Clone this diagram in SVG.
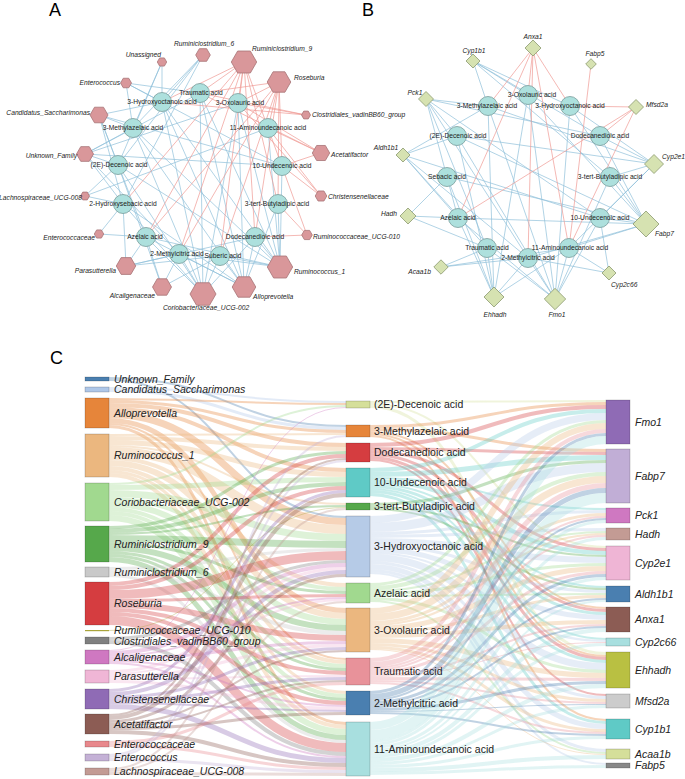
<svg xmlns="http://www.w3.org/2000/svg" width="685" height="779" viewBox="0 0 685 779">
<style>
.ne{stroke:#8fc0da;stroke-width:0.7;fill:none}
.pe{stroke:#ef9a94;stroke-width:0.7;fill:none}
.met{fill:#ade0dd;stroke:#7a9d9c;stroke-width:0.8}
.bac{fill:#d9979a;stroke:#a77476;stroke-width:0.8}
.gen{fill:#d6e2b1;stroke:#8c9970;stroke-width:0.8}
.t{font-family:"Liberation Sans",Arial,sans-serif;font-size:6.7px;fill:#222}
.i{font-style:italic}
.m{text-anchor:middle}
.e{text-anchor:end}
.lk path{fill:none;stroke-opacity:0.35}
.nd{stroke:#000;stroke-opacity:0.25;stroke-width:0.7}
.s{font-family:"Liberation Sans",Arial,sans-serif;font-size:10.5px;fill:#222}
.h{font-family:"Liberation Sans",Arial,sans-serif;font-size:18px;fill:#000}
</style>
<rect width="685" height="779" fill="#fff"/>
<text class="h" x="49" y="16">A</text>
<text class="h" x="362" y="16">B</text>
<text class="h" x="50" y="364">C</text>

<!-- Panel A connectors -->
<g id="edgesA">
<path class="ne" d="M162 62L162 102M162 62L118 165M162 62L133 128"/>
<path class="ne" d="M203 55L162 102M203 55L133 128M203 55L118 165M203 55L123 204"/>
<path class="ne" d="M126 83L162 102M126 83L133 128M126 83L200 93M126 83L282 166"/>
<path class="ne" d="M99 115L133 128M99 115L162 102M99 115L118 165M99 115L123 204M99 115L146 237M99 115L282 166"/>
<path class="ne" d="M85 154L118 165M85 154L133 128M85 154L123 204M85 154L200 93M85 154L179 254M85 154L238 103M85 154L282 166"/>
<path class="ne" d="M85 196L123 204M85 196L118 165M85 196L268 128"/>
<path class="ne" d="M99 234L146 237M99 234L123 204"/>
<path class="ne" d="M126 266L146 237M126 266L179 254M126 266L123 204M126 266L220 256M126 266L255 237"/>
<path class="ne" d="M162 287L179 254M162 287L146 237M162 287L220 256M162 287L118 165"/>
<path class="ne" d="M203 294L179 254M203 294L220 256M203 294L146 237M203 294L255 237M203 294L123 204M203 294L118 165M203 294L133 128M203 294L162 102M203 294L200 93M203 294L238 103"/>
<path class="ne" d="M244 287L220 256M244 287L255 237M244 287L179 254M244 287L146 237M244 287L123 204M244 287L133 128M244 287L162 102M244 287L200 93M244 287L238 103M244 287L278 204"/>
<path class="ne" d="M280 267L255 237M280 267L278 204M280 267L282 166M280 267L220 256M280 267L179 254M280 267L146 237M280 267L162 102M280 267L133 128M280 267L118 165M280 267L200 93M280 267L238 103M280 267L268 128"/>
<path class="pe" d="M244 62L200 93M244 62L238 103M244 62L268 128M244 62L162 102M244 62L123 204M244 62L146 237M244 62L179 254M244 62L220 256M244 62L255 237M244 62L278 204"/>
<path class="pe" d="M279 82L200 93M279 82L238 103M279 82L268 128M279 82L282 166M279 82L278 204M279 82L255 237M279 82L220 256M279 82L179 254M279 82L146 237"/>
<path class="pe" d="M306 115L200 93M306 115L238 103M306 115L162 102"/>
<path class="pe" d="M321 153L268 128M321 153L238 103M321 153L200 93M321 153L282 166"/>
<path class="pe" d="M321 196L268 128M321 196L282 166M321 196L238 103"/>
<path class="pe" d="M307 235L278 204M307 235L268 128M307 235L255 237"/>
</g>

<!-- Panel B connectors -->
<g id="edgesB">
<path class="ne" d="M473 61L488 106M473 61L528 95M473 61L570 106M473 61L600 136M473 61L610 177"/>
<path class="ne" d="M426 99L488 106M426 99L457 136M426 99L458 218M426 99L487 248M426 99L600 218M426 99L600 136M426 99L528 258"/>
<path class="ne" d="M403 155L457 136M403 155L488 106M403 155L458 218M403 155L487 248M403 155L600 218M403 155L528 258"/>
<path class="ne" d="M408 216L447 177M408 216L458 218M408 216L487 248"/>
<path class="ne" d="M441 267L487 248M441 267L528 258M441 267L569 248"/>
<path class="ne" d="M494 297L487 248M494 297L528 258M494 297L569 248M494 297L458 218M494 297L457 136M494 297L488 106M494 297L528 95M494 297L447 177"/>
<path class="ne" d="M555 299L569 248M555 299L528 258M555 299L600 218M555 299L610 177M555 299L487 248M555 299L570 106M555 299L528 95M555 299L457 136M555 299L458 218M555 299L488 106"/>
<path class="ne" d="M609 273L569 248M609 273L600 218M609 273L528 258"/>
<path class="ne" d="M646 224L600 218M646 224L610 177M646 224L569 248M646 224L600 136M646 224L528 258M646 224L458 218M646 224L447 177M646 224L457 136M646 224L570 106M646 224L528 95"/>
<path class="ne" d="M654 164L610 177M654 164L600 136M654 164L600 218M654 164L569 248M654 164L488 106M654 164L457 136M654 164L570 106"/>
<path class="pe" d="M533 48L528 95M533 48L570 106M533 48L458 218M533 48L528 258M533 48L569 248M533 48L488 106"/>
<path class="pe" d="M591 64L569 248"/>
<path class="pe" d="M636 107L570 106M636 107L600 136M636 107L458 218M636 107L569 248"/>
</g>

<!-- Panel A nodes: bacteria -->
<g id="a-unassigned"><path class="bac" d="M166.7 62l-2.35 4.07h-4.7l-2.35-4.07l2.35-4.07h4.7z"/><text class="t i e" x="161" y="57">Unassigned</text></g>
<g id="a-rum6"><path class="bac" d="M210.3 55l-3.65 6.32h-7.3l-3.65-6.32l3.65-6.32h7.3z"/><text class="t i m" x="204" y="46">Ruminiclostridium_6</text></g>
<g id="a-rum9"><path class="bac" d="M256.7 62l-6.35 11h-12.7l-6.35-11l6.35-11h12.7z"/><text class="t i" x="252" y="51">Ruminiclostridium_9</text></g>
<g id="a-roseburia"><path class="bac" d="M290.8 82l-5.9 10.22h-11.8l-5.9-10.22l5.9-10.22h11.8z"/><text class="t i" x="294" y="80">Roseburia</text></g>
<g id="a-clostridiales"><path class="bac" d="M310.5 115l-2.25 3.9h-4.5l-2.25-3.9l2.25-3.9h4.5z"/><text class="t i" x="312" y="117">Clostridiales_vadinBB60_group</text></g>
<g id="a-acetatifactor"><path class="bac" d="M329.7 153l-4.35 7.53h-8.7l-4.35-7.53l4.35-7.53h8.7z"/><text class="t i" x="331" y="157">Acetatifactor</text></g>
<g id="a-christensenellaceae"><path class="bac" d="M326.8 196l-2.9 5.02h-5.8l-2.9-5.02l2.9-5.02h5.8z"/><text class="t i" x="328" y="199">Christensenellaceae</text></g>
<g id="a-ucg010"><path class="bac" d="M312.3 235l-2.65 4.59h-5.3l-2.65-4.59l2.65-4.59h5.3z"/><text class="t i" x="313" y="239">Ruminococcaceae_UCG-010</text></g>
<g id="a-rum1"><path class="bac" d="M292.7 267l-6.35 11h-12.7l-6.35-11l6.35-11h12.7z"/><text class="t i" x="294" y="274">Ruminococcus_1</text></g>
<g id="a-alloprevotella"><path class="bac" d="M255.8 287l-5.9 10.22h-11.8l-5.9-10.22l5.9-10.22h11.8z"/><text class="t i" x="253" y="299">Alloprevotella</text></g>
<g id="a-corio"><path class="bac" d="M216 294l-6.5 11.26h-13l-6.5-11.26l6.5-11.26h13z"/><text class="t i m" x="206" y="310">Coriobacteriaceae_UCG-002</text></g>
<g id="a-alcaligenaceae"><path class="bac" d="M171.5 287l-4.75 8.23h-9.5l-4.75-8.23l4.75-8.23h9.5z"/><text class="t i e" x="155" y="298">Alcaligenaceae</text></g>
<g id="a-parasutterella"><path class="bac" d="M135.7 266l-4.85 8.4h-9.7l-4.85-8.4l4.85-8.4h9.7z"/><text class="t i e" x="116" y="273">Parasutterella</text></g>
<g id="a-enterococcaceae"><path class="bac" d="M103.7 234l-2.35 4.07h-4.7l-2.35-4.07l2.35-4.07h4.7z"/><text class="t i e" x="95" y="240">Enterococcaceae</text></g>
<g id="a-lachno"><path class="bac" d="M89.5 196l-2.25 3.9h-4.5l-2.25-3.9l2.25-3.9h4.5z"/><text class="t i e" x="82" y="200">Lachnospiraceae_UCG-008</text></g>
<g id="a-unknown"><path class="bac" d="M93.5 154l-4.25 7.36h-8.5l-4.25-7.36l4.25-7.36h8.5z"/><text class="t i e" x="77" y="158">Unknown_Family</text></g>
<g id="a-candidatus"><path class="bac" d="M108 115l-4.5 7.79h-9l-4.5-7.79l4.5-7.79h9z"/><text class="t i e" x="90" y="115">Candidatus_Saccharimonas</text></g>
<g id="a-enterococcus"><path class="bac" d="M131.5 83l-2.75 4.76h-5.5l-2.75-4.76l2.75-4.76h5.5z"/><text class="t i e" x="120" y="85">Enterococcus</text></g>

<!-- Panel A nodes: metabolites -->
<g id="a-tra"><circle class="met" cx="200" cy="93" r="9.5"/><text class="t m" x="201" y="95.4">Traumatic acid</text></g>
<g id="a-ola"><circle class="met" cx="238" cy="103" r="9.5"/><text class="t m" x="240" y="105.4">3-Oxolauric acid</text></g>
<g id="a-aua"><circle class="met" cx="268" cy="128" r="9.5"/><text class="t m" x="268" y="130.4">11-Aminoundecanoic acid</text></g>
<g id="a-hoa"><circle class="met" cx="162" cy="102" r="9.5"/><text class="t m" x="162" y="104.4">3-Hydroxyoctanoic acid</text></g>
<g id="a-m3a"><circle class="met" cx="133" cy="128" r="9.5"/><text class="t m" x="133" y="130.4">3-Methylazelaic acid</text></g>
<g id="a-d2e"><circle class="met" cx="118" cy="165" r="9.5"/><text class="t m" x="119" y="167.4">(2E)-Decenoic acid</text></g>
<g id="a-hsa"><circle class="met" cx="123" cy="204" r="9.5"/><text class="t m" x="123" y="206.4">2-Hydroxysebacic acid</text></g>
<g id="a-aza"><circle class="met" cx="146" cy="237" r="9.5"/><text class="t m" x="145" y="239.4">Azelaic acid</text></g>
<g id="a-mca"><circle class="met" cx="179" cy="254" r="9.5"/><text class="t m" x="177" y="256.4">2-Methylcitric acid</text></g>
<g id="a-sua"><circle class="met" cx="220" cy="256" r="9.5"/><text class="t m" x="223" y="258.4">Suberic acid</text></g>
<g id="a-dda"><circle class="met" cx="255" cy="237" r="9.5"/><text class="t m" x="255" y="239.4">Dodecanedioic acid</text></g>
<g id="a-tba"><circle class="met" cx="278" cy="204" r="9.5"/><text class="t m" x="277" y="206.4">3-tert-Butyladipic acid</text></g>
<g id="a-uda"><circle class="met" cx="282" cy="166" r="9.5"/><text class="t m" x="282" y="168.4">10-Undecenoic acid</text></g>

<!-- Panel B nodes: genes -->
<g id="b-cyp1b1"><path class="gen" d="M473 54l7 7l-7 7l-7-7z"/><text class="t i m" x="474" y="53">Cyp1b1</text></g>
<g id="b-anxa1"><path class="gen" d="M533 40l8 8l-8 8l-8-8z"/><text class="t i m" x="533" y="39">Anxa1</text></g>
<g id="b-fabp5"><path class="gen" d="M591 58.7l5.3 5.3l-5.3 5.3l-5.3-5.3z"/><text class="t i m" x="595" y="56">Fabp5</text></g>
<g id="b-pck1"><path class="gen" d="M426 91.5l7.5 7.5l-7.5 7.5l-7.5-7.5z"/><text class="t i m" x="415" y="95">Pck1</text></g>
<g id="b-mfsd2a"><path class="gen" d="M636 99.5l7.5 7.5l-7.5 7.5l-7.5-7.5z"/><text class="t i" x="646" y="107">Mfsd2a</text></g>
<g id="b-aldh1b1"><path class="gen" d="M403 148l7 7l-7 7l-7-7z"/><text class="t i m" x="386" y="150">Aldh1b1</text></g>
<g id="b-cyp2e1"><path class="gen" d="M654 154.5l9.5 9.5l-9.5 9.5l-9.5-9.5z"/><text class="t i" x="662" y="159">Cyp2e1</text></g>
<g id="b-hadh"><path class="gen" d="M408 208l8 8l-8 8l-8-8z"/><text class="t i e" x="397" y="216">Hadh</text></g>
<g id="b-fabp7"><path class="gen" d="M646 211l13 13l-13 13l-13-13z"/><text class="t i" x="655" y="236">Fabp7</text></g>
<g id="b-acaa1b"><path class="gen" d="M441 259.8l7.2 7.2l-7.2 7.2l-7.2-7.2z"/><text class="t i e" x="431" y="274">Acaa1b</text></g>
<g id="b-cyp2c66"><path class="gen" d="M609 266l7 7l-7 7l-7-7z"/><text class="t i" x="611" y="287">Cyp2c66</text></g>
<g id="b-ehhadh"><path class="gen" d="M494 287l10 10l-10 10l-10-10z"/><text class="t i m" x="495" y="317">Ehhadh</text></g>
<g id="b-fmo1"><path class="gen" d="M555 288.3l10.7 10.7l-10.7 10.7l-10.7-10.7z"/><text class="t i m" x="557" y="317">Fmo1</text></g>

<!-- Panel B nodes: metabolites -->
<g id="b-m3a"><circle class="met" cx="488" cy="106" r="9.5"/><text class="t m" x="487" y="108.4">3-Methylazelaic acid</text></g>
<g id="b-d2e"><circle class="met" cx="457" cy="136" r="9.5"/><text class="t m" x="458" y="138.4">(2E)-Decenoic acid</text></g>
<g id="b-ola"><circle class="met" cx="528" cy="95" r="9.5"/><text class="t m" x="532" y="97.4">3-Oxolauric acid</text></g>
<g id="b-hoa"><circle class="met" cx="570" cy="106" r="9.5"/><text class="t m" x="570" y="108.4">3-Hydroxyoctanoic acid</text></g>
<g id="b-dda"><circle class="met" cx="600" cy="136" r="9.5"/><text class="t m" x="600" y="138.4">Dodecanedioic acid</text></g>
<g id="b-seb"><circle class="met" cx="447" cy="177" r="9.5"/><text class="t m" x="447" y="179.4">Sebacic acid</text></g>
<g id="b-aza"><circle class="met" cx="458" cy="218" r="9.5"/><text class="t m" x="458" y="220.4">Azelaic acid</text></g>
<g id="b-tra"><circle class="met" cx="487" cy="248" r="9.5"/><text class="t m" x="487" y="250.4">Traumatic acid</text></g>
<g id="b-mca"><circle class="met" cx="528" cy="258" r="9.5"/><text class="t m" x="528" y="260.4">2-Methylcitric acid</text></g>
<g id="b-aua"><circle class="met" cx="569" cy="248" r="9.5"/><text class="t m" x="570" y="250.4">11-Aminoundecanoic acid</text></g>
<g id="b-uda"><circle class="met" cx="600" cy="218" r="9.5"/><text class="t m" x="600" y="220.4">10-Undecenoic acid</text></g>
<g id="b-tba"><circle class="met" cx="610" cy="177" r="9.5"/><text class="t m" x="610" y="179.4">3-tert-Butyladipic acid</text></g>

<!-- Panel C links -->
<g id="linksC" class="lk">
<g stroke="#4a7fb0"><path stroke-width="2" d="M109 378C228 378 228 426 346 426"/><path stroke-width="2" d="M109 380C228 380 228 517 346 517"/></g>
<g stroke="#aec7e8"><path stroke-width="2" d="M109 388C228 388 228 402 346 402"/><path stroke-width="3" d="M109 390.5C228 390.5 228 428.5 346 428.5"/></g>
<g stroke="#e6853a"><path stroke-width="2" d="M109 399C228 399 228 404 346 404"/><path stroke-width="3" d="M109 401.5C228 401.5 228 431.5 346 431.5"/><path stroke-width="4" d="M109 405C228 405 228 445 346 445"/><path stroke-width="4" d="M109 409C228 409 228 470 346 470"/><path stroke-width="7" d="M109 414.5C228 414.5 228 521.5 346 521.5"/><path stroke-width="5" d="M109 420.5C228 420.5 228 610.5 346 610.5"/><path stroke-width="2" d="M109 424C228 424 228 659 346 659"/><path stroke-width="3" d="M109 426.5C228 426.5 228 723.5 346 723.5"/></g>
<g stroke="#ebb77f"><path stroke-width="2" d="M109 435C228 435 228 434 346 434"/><path stroke-width="4" d="M109 438C228 438 228 449 346 449"/><path stroke-width="5" d="M109 442.5C228 442.5 228 474.5 346 474.5"/><path stroke-width="2" d="M109 446C228 446 228 504 346 504"/><path stroke-width="9" d="M109 451.5C228 451.5 228 529.5 346 529.5"/><path stroke-width="4" d="M109 458C228 458 228 585 346 585"/><path stroke-width="6" d="M109 463C228 463 228 616 346 616"/><path stroke-width="4" d="M109 468C228 468 228 662 346 662"/><path stroke-width="3" d="M109 471.5C228 471.5 228 692.5 346 692.5"/><path stroke-width="4" d="M109 475C228 475 228 727 346 727"/></g>
<g stroke="#a1d98f"><path stroke-width="2" d="M109 484C228 484 228 406 346 406"/><path stroke-width="5" d="M109 487.5C228 487.5 228 479.5 346 479.5"/><path stroke-width="7" d="M109 493.5C228 493.5 228 537.5 346 537.5"/><path stroke-width="4" d="M109 499C228 499 228 589 346 589"/><path stroke-width="6" d="M109 504C228 504 228 622 346 622"/><path stroke-width="4" d="M109 509C228 509 228 666 346 666"/><path stroke-width="4" d="M109 513C228 513 228 696 346 696"/><path stroke-width="6" d="M109 518C228 518 228 732 346 732"/></g>
<g stroke="#56a84b"><path stroke-width="3" d="M109 527.5C228 527.5 228 452.5 346 452.5"/><path stroke-width="4" d="M109 531C228 531 228 484 346 484"/><path stroke-width="2" d="M109 534C228 534 228 506 346 506"/><path stroke-width="7" d="M109 538.5C228 538.5 228 544.5 346 544.5"/><path stroke-width="3" d="M109 543.5C228 543.5 228 592.5 346 592.5"/><path stroke-width="6" d="M109 548C228 548 228 628 346 628"/><path stroke-width="3" d="M109 552.5C228 552.5 228 669.5 346 669.5"/><path stroke-width="3" d="M109 555.5C228 555.5 228 699.5 346 699.5"/><path stroke-width="5" d="M109 559.5C228 559.5 228 737.5 346 737.5"/></g>
<g stroke="#c9c9c9"><path stroke-width="3" d="M109 568.5C228 568.5 228 549.5 346 549.5"/><path stroke-width="4" d="M109 572C228 572 228 633 346 633"/><path stroke-width="3" d="M109 575.5C228 575.5 228 741.5 346 741.5"/></g>
<g stroke="#d53d40"><path stroke-width="4" d="M109 584C228 584 228 456 346 456"/><path stroke-width="4" d="M109 588C228 588 228 488 346 488"/><path stroke-width="9" d="M109 594.5C228 594.5 228 555.5 346 555.5"/><path stroke-width="3" d="M109 600.5C228 600.5 228 595.5 346 595.5"/><path stroke-width="6" d="M109 605C228 605 228 638 346 638"/><path stroke-width="4" d="M109 610C228 610 228 673 346 673"/><path stroke-width="4" d="M109 614C228 614 228 703 346 703"/><path stroke-width="9" d="M109 620.5C228 620.5 228 747.5 346 747.5"/></g>
<g stroke="#a9a43a"><path stroke-width="1" stroke-opacity="0.8" d="M109 630.5C228 630.5 228 507.5 346 507.5"/></g>
<g stroke="#808080"><path stroke-width="3" d="M109 638.5C228 638.5 228 561.5 346 561.5"/><path stroke-width="4" d="M109 642C228 642 228 754 346 754"/></g>
<g stroke="#cf78c1"><path stroke-width="1" d="M109 650.5C228 650.5 228 407.5 346 407.5"/><path stroke-width="4" d="M109 653C228 653 228 565 346 565"/><path stroke-width="2" d="M109 656C228 656 228 598 346 598"/><path stroke-width="3" d="M109 658.5C228 658.5 228 642.5 346 642.5"/><path stroke-width="2" d="M109 661C228 661 228 706 346 706"/><path stroke-width="2" d="M109 663C228 663 228 757 346 757"/></g>
<g stroke="#f0b6d6"><path stroke-width="3" d="M109 671.5C228 671.5 228 568.5 346 568.5"/><path stroke-width="2" d="M109 674C228 674 228 600 346 600"/><path stroke-width="3" d="M109 676.5C228 676.5 228 645.5 346 645.5"/><path stroke-width="2" d="M109 679C228 679 228 676 346 676"/><path stroke-width="3" d="M109 681.5C228 681.5 228 708.5 346 708.5"/></g>
<g stroke="#8f6bb5"><path stroke-width="3" d="M109 690.5C228 690.5 228 491.5 346 491.5"/><path stroke-width="4" d="M109 694C228 694 228 572 346 572"/><path stroke-width="3" d="M109 697.5C228 697.5 228 648.5 346 648.5"/><path stroke-width="3" d="M109 700.5C228 700.5 228 678.5 346 678.5"/><path stroke-width="2" d="M109 703C228 703 228 711 346 711"/><path stroke-width="5" d="M109 706.5C228 706.5 228 760.5 346 760.5"/></g>
<g stroke="#8c5c54"><path stroke-width="2" d="M109 715C228 715 228 459 346 459"/><path stroke-width="4" d="M109 718C228 718 228 495 346 495"/><path stroke-width="3" d="M109 721.5C228 721.5 228 575.5 346 575.5"/><path stroke-width="2" d="M109 724C228 724 228 651 346 651"/><path stroke-width="2" d="M109 726C228 726 228 681 346 681"/><path stroke-width="3" d="M109 728.5C228 728.5 228 713.5 346 713.5"/><path stroke-width="4" d="M109 732C228 732 228 765 346 765"/></g>
<g stroke="#e8888c"><path stroke-width="3" d="M109 742.5C228 742.5 228 683.5 346 683.5"/><path stroke-width="3" d="M109 745.5C228 745.5 228 768.5 346 768.5"/></g>
<g stroke="#c4b1d6"><path stroke-width="2" d="M109 755C228 755 228 436 346 436"/><path stroke-width="2" d="M109 757C228 757 228 461 346 461"/><path stroke-width="3" d="M109 759.5C228 759.5 228 771.5 346 771.5"/></g>
<g stroke="#c39b94"><path stroke-width="2" d="M109 769C228 769 228 509 346 509"/><path stroke-width="2" d="M109 771C228 771 228 602 346 602"/><path stroke-width="3" d="M109 773.5C228 773.5 228 774.5 346 774.5"/></g>

<g stroke="#d5df9a"><path stroke-width="2" d="M370 402C488 402 488 401 606 401"/><path stroke-width="2" d="M370 404C488 404 488 547 606 547"/><path stroke-width="3" d="M370 406.5C488 406.5 488 653.5 606 653.5"/></g>
<g stroke="#e6853a"><path stroke-width="3" d="M370 426.5C488 426.5 488 403.5 606 403.5"/><path stroke-width="3" d="M370 429.5C488 429.5 488 450.5 606 450.5"/><path stroke-width="2" d="M370 432C488 432 488 608 606 608"/><path stroke-width="2" d="M370 434C488 434 488 656 606 656"/><path stroke-width="2" d="M370 436C488 436 488 720 606 720"/></g>
<g stroke="#d53d40"><path stroke-width="4" d="M370 445C488 445 488 407 606 407"/><path stroke-width="3" d="M370 448.5C488 448.5 488 453.5 606 453.5"/><path stroke-width="3" d="M370 451.5C488 451.5 488 549.5 606 549.5"/><path stroke-width="3" d="M370 454.5C488 454.5 488 610.5 606 610.5"/><path stroke-width="3" d="M370 457.5C488 457.5 488 658.5 606 658.5"/><path stroke-width="2" d="M370 460C488 460 488 695 606 695"/></g>
<g stroke="#5fcac6"><path stroke-width="4" d="M370 470C488 470 488 411 606 411"/><path stroke-width="5" d="M370 474.5C488 474.5 488 457.5 606 457.5"/><path stroke-width="2" d="M370 478C488 478 488 509 606 509"/><path stroke-width="4" d="M370 481C488 481 488 553 606 553"/><path stroke-width="2" d="M370 484C488 484 488 587 606 587"/><path stroke-width="3" d="M370 486.5C488 486.5 488 613.5 606 613.5"/><path stroke-width="2" d="M370 489C488 489 488 639 606 639"/><path stroke-width="3" d="M370 491.5C488 491.5 488 661.5 606 661.5"/><path stroke-width="3" d="M370 494.5C488 494.5 488 722.5 606 722.5"/></g>
<g stroke="#56a84b"><path stroke-width="3" d="M370 504.5C488 504.5 488 461.5 606 461.5"/><path stroke-width="2" d="M370 507C488 507 488 556 606 556"/><path stroke-width="2" d="M370 509C488 509 488 589 606 589"/></g>
<g stroke="#b6cbe7"><path stroke-width="7" d="M370 519.5C488 519.5 488 416.5 606 416.5"/><path stroke-width="9" d="M370 527.5C488 527.5 488 467.5 606 467.5"/><path stroke-width="3" d="M370 533.5C488 533.5 488 511.5 606 511.5"/><path stroke-width="3" d="M370 536.5C488 536.5 488 529.5 606 529.5"/><path stroke-width="6" d="M370 541C488 541 488 560 606 560"/><path stroke-width="3" d="M370 545.5C488 545.5 488 591.5 606 591.5"/><path stroke-width="5" d="M370 549.5C488 549.5 488 617.5 606 617.5"/><path stroke-width="2" d="M370 553C488 553 488 641 606 641"/><path stroke-width="7" d="M370 557.5C488 557.5 488 666.5 606 666.5"/><path stroke-width="3" d="M370 562.5C488 562.5 488 697.5 606 697.5"/><path stroke-width="5" d="M370 566.5C488 566.5 488 726.5 606 726.5"/><path stroke-width="3" d="M370 570.5C488 570.5 488 750.5 606 750.5"/><path stroke-width="2" d="M370 573C488 573 488 764 606 764"/></g>
<g stroke="#a1d98f"><path stroke-width="3" d="M370 584.5C488 584.5 488 421.5 606 421.5"/><path stroke-width="4" d="M370 588C488 588 488 474 606 474"/><path stroke-width="2" d="M370 591C488 591 488 532 606 532"/><path stroke-width="3" d="M370 593.5C488 593.5 488 564.5 606 564.5"/><path stroke-width="2" d="M370 596C488 596 488 594 606 594"/><path stroke-width="3" d="M370 598.5C488 598.5 488 671.5 606 671.5"/><path stroke-width="2" d="M370 601C488 601 488 753 606 753"/></g>
<g stroke="#ebb77f"><path stroke-width="6" d="M370 611C488 611 488 426 606 426"/><path stroke-width="7" d="M370 617.5C488 617.5 488 479.5 606 479.5"/><path stroke-width="3" d="M370 622.5C488 622.5 488 514.5 606 514.5"/><path stroke-width="2" d="M370 625C488 625 488 534 606 534"/><path stroke-width="5" d="M370 628.5C488 628.5 488 568.5 606 568.5"/><path stroke-width="3" d="M370 632.5C488 632.5 488 596.5 606 596.5"/><path stroke-width="4" d="M370 636C488 636 488 622 606 622"/><path stroke-width="5" d="M370 640.5C488 640.5 488 675.5 606 675.5"/><path stroke-width="3" d="M370 644.5C488 644.5 488 700.5 606 700.5"/><path stroke-width="3" d="M370 647.5C488 647.5 488 730.5 606 730.5"/><path stroke-width="1" d="M370 649.5C488 649.5 488 754.5 606 754.5"/></g>
<g stroke="#e8929a"><path stroke-width="4" d="M370 660C488 660 488 431 606 431"/><path stroke-width="5" d="M370 664.5C488 664.5 488 485.5 606 485.5"/><path stroke-width="2" d="M370 668C488 668 488 517 606 517"/><path stroke-width="2" d="M370 670C488 670 488 536 606 536"/><path stroke-width="3" d="M370 672.5C488 672.5 488 572.5 606 572.5"/><path stroke-width="2" d="M370 675C488 675 488 625 606 625"/><path stroke-width="1" d="M370 676.5C488 676.5 488 642.5 606 642.5"/><path stroke-width="3" d="M370 678.5C488 678.5 488 679.5 606 679.5"/><path stroke-width="2" d="M370 681C488 681 488 703 606 703"/><path stroke-width="2" d="M370 683C488 683 488 733 606 733"/></g>
<g stroke="#4a7fb0"><path stroke-width="3" d="M370 692.5C488 692.5 488 434.5 606 434.5"/><path stroke-width="5" d="M370 696.5C488 696.5 488 490.5 606 490.5"/><path stroke-width="2" d="M370 700C488 700 488 519 606 519"/><path stroke-width="3" d="M370 702.5C488 702.5 488 575.5 606 575.5"/><path stroke-width="2" d="M370 705C488 705 488 599 606 599"/><path stroke-width="2" d="M370 707C488 707 488 627 606 627"/><path stroke-width="3" d="M370 709.5C488 709.5 488 682.5 606 682.5"/><path stroke-width="1" d="M370 711.5C488 711.5 488 704.5 606 704.5"/><path stroke-width="2" d="M370 713C488 713 488 735 606 735"/></g>
<g stroke="#a8dfdf"><path stroke-width="8" d="M370 726C488 726 488 440 606 440"/><path stroke-width="10" d="M370 735C488 735 488 498 606 498"/><path stroke-width="3" d="M370 741.5C488 741.5 488 521.5 606 521.5"/><path stroke-width="3" d="M370 744.5C488 744.5 488 538.5 606 538.5"/><path stroke-width="3" d="M370 747.5C488 747.5 488 578.5 606 578.5"/><path stroke-width="2" d="M370 750C488 750 488 601 606 601"/><path stroke-width="4" d="M370 753C488 753 488 630 606 630"/><path stroke-width="3" d="M370 756.5C488 756.5 488 644.5 606 644.5"/><path stroke-width="4" d="M370 760C488 760 488 686 606 686"/><path stroke-width="3" d="M370 763.5C488 763.5 488 706.5 606 706.5"/><path stroke-width="3" d="M370 766.5C488 766.5 488 737.5 606 737.5"/><path stroke-width="4" d="M370 770C488 770 488 757 606 757"/><path stroke-width="3" d="M370 773.5C488 773.5 488 766.5 606 766.5"/></g>
</g>

<!-- Panel C nodes: left -->
<g id="c-unknown"><rect class="nd" x="85" y="377" width="24" height="4" fill="#4a7fb0"/><text class="s i" x="114" y="382.8">Unknown_Family</text></g>
<g id="c-candidatus"><rect class="nd" x="85" y="387" width="24" height="5" fill="#aec7e8"/><text class="s i" x="114" y="393.3">Candidatus_Saccharimonas</text></g>
<g id="c-alloprevotella"><rect class="nd" x="85" y="398" width="24" height="30" fill="#e6853a"/><text class="s i" x="114" y="416.8">Alloprevotella</text></g>
<g id="c-rum1"><rect class="nd" x="85" y="434" width="24" height="43" fill="#ebb77f"/><text class="s i" x="114" y="459.3">Ruminococcus_1</text></g>
<g id="c-corio"><rect class="nd" x="85" y="483" width="24" height="38" fill="#a1d98f"/><text class="s i" x="114" y="505.8">Coriobacteriaceae_UCG-002</text></g>
<g id="c-rum9"><rect class="nd" x="85" y="526" width="24" height="36" fill="#56a84b"/><text class="s i" x="114" y="547.8">Ruminiclostridium_9</text></g>
<g id="c-rum6"><rect class="nd" x="85" y="567" width="24" height="10" fill="#c9c9c9"/><text class="s i" x="114" y="575.8">Ruminiclostridium_6</text></g>
<g id="c-roseburia"><rect class="nd" x="85" y="582" width="24" height="43" fill="#d53d40"/><text class="s i" x="114" y="607.3">Roseburia</text></g>
<g id="c-ucg010"><rect x="85" y="630" width="24" height="1.2" fill="#a9a43a"/><text class="s i" x="114" y="633.6">Ruminococcaceae_UCG-010</text></g>
<g id="c-clostridiales"><rect class="nd" x="85" y="637" width="24" height="7" fill="#808080"/><text class="s i" x="114" y="645">Clostridiales_vadinBB60_group</text></g>
<g id="c-alcaligenaceae"><rect class="nd" x="85" y="650" width="24" height="14" fill="#cf78c1"/><text class="s i" x="114" y="660.8">Alcaligenaceae</text></g>
<g id="c-parasutterella"><rect class="nd" x="85" y="670" width="24" height="13" fill="#f0b6d6"/><text class="s i" x="114" y="680.3">Parasutterella</text></g>
<g id="c-christensenellaceae"><rect class="nd" x="85" y="689" width="24" height="20" fill="#8f6bb5"/><text class="s i" x="114" y="702.8">Christensenellaceae</text></g>
<g id="c-acetatifactor"><rect class="nd" x="85" y="714" width="24" height="20" fill="#8c5c54"/><text class="s i" x="114" y="727.8">Acetatifactor</text></g>
<g id="c-enterococcaceae"><rect class="nd" x="85" y="741" width="24" height="6" fill="#e8888c"/><text class="s i" x="114" y="747.8">Enterococcaceae</text></g>
<g id="c-enterococcus"><rect class="nd" x="85" y="754" width="24" height="7" fill="#c4b1d6"/><text class="s i" x="114" y="761.3">Enterococcus</text></g>
<g id="c-lachno"><rect class="nd" x="85" y="768" width="24" height="7" fill="#c39b94"/><text class="s i" x="114" y="775.3">Lachnospiraceae_UCG-008</text></g>

<!-- Panel C nodes: middle -->
<g id="c-d2e"><rect class="nd" x="346" y="401" width="24" height="7" fill="#d5df9a"/><text class="s" x="374" y="408.3">(2E)-Decenoic acid</text></g>
<g id="c-m3a"><rect class="nd" x="346" y="425" width="24" height="12" fill="#e6853a"/><text class="s" x="374" y="434.8">3-Methylazelaic acid</text></g>
<g id="c-dda"><rect class="nd" x="346" y="443" width="24" height="19" fill="#d53d40"/><text class="s" x="374" y="456.3">Dodecanedioic acid</text></g>
<g id="c-uda"><rect class="nd" x="346" y="468" width="24" height="29" fill="#5fcac6"/><text class="s" x="374" y="486.3">10-Undecenoic acid</text></g>
<g id="c-tba"><rect class="nd" x="346" y="503" width="24" height="7" fill="#56a84b"/><text class="s" x="374" y="510.3">3-tert-Butyladipic acid</text></g>
<g id="c-hoa"><rect class="nd" x="346" y="516" width="24" height="61" fill="#b6cbe7"/><text class="s" x="374" y="550.3">3-Hydroxyoctanoic acid</text></g>
<g id="c-aza"><rect class="nd" x="346" y="583" width="24" height="20" fill="#a1d98f"/><text class="s" x="374" y="596.8">Azelaic acid</text></g>
<g id="c-ola"><rect class="nd" x="346" y="608" width="24" height="44" fill="#ebb77f"/><text class="s" x="374" y="633.8">3-Oxolauric acid</text></g>
<g id="c-tra"><rect class="nd" x="346" y="658" width="24" height="27" fill="#e8929a"/><text class="s" x="374" y="675.3">Traumatic acid</text></g>
<g id="c-mca"><rect class="nd" x="346" y="691" width="24" height="24" fill="#4a7fb0"/><text class="s" x="374" y="706.8">2-Methylcitric acid</text></g>
<g id="c-aua"><rect class="nd" x="346" y="722" width="24" height="54" fill="#a8dfdf"/><text class="s" x="374" y="752.8">11-Aminoundecanoic acid</text></g>

<!-- Panel C nodes: right -->
<g id="c-fmo1"><rect class="nd" x="606" y="400" width="24" height="44" fill="#8f6bb5"/><text class="s i" x="635" y="425.8">Fmo1</text></g>
<g id="c-fabp7"><rect class="nd" x="606" y="449" width="24" height="54" fill="#c1aed6"/><text class="s i" x="635" y="479.8">Fabp7</text></g>
<g id="c-pck1"><rect class="nd" x="606" y="508" width="24" height="15" fill="#cf78c1"/><text class="s i" x="635" y="519.3">Pck1</text></g>
<g id="c-hadh"><rect class="nd" x="606" y="528" width="24" height="12" fill="#c39b94"/><text class="s i" x="635" y="537.8">Hadh</text></g>
<g id="c-cyp2e1"><rect class="nd" x="606" y="546" width="24" height="34" fill="#efb5d5"/><text class="s i" x="635" y="566.8">Cyp2e1</text></g>
<g id="c-aldh1b1"><rect class="nd" x="606" y="586" width="24" height="16" fill="#4a7fb0"/><text class="s i" x="635" y="597.8">Aldh1b1</text></g>
<g id="c-anxa1"><rect class="nd" x="606" y="607" width="24" height="25" fill="#8c5c54"/><text class="s i" x="635" y="623.3">Anxa1</text></g>
<g id="c-cyp2c66"><rect class="nd" x="606" y="638" width="24" height="8" fill="#a8dfdf"/><text class="s i" x="635" y="645.8">Cyp2c66</text></g>
<g id="c-ehhadh"><rect class="nd" x="606" y="652" width="24" height="36" fill="#b9c042"/><text class="s i" x="635" y="673.8">Ehhadh</text></g>
<g id="c-mfsd2a"><rect class="nd" x="606" y="694" width="24" height="14" fill="#cccccc"/><text class="s i" x="635" y="704.8">Mfsd2a</text></g>
<g id="c-cyp1b1"><rect class="nd" x="606" y="719" width="24" height="20" fill="#5fcac6"/><text class="s i" x="635" y="732.8">Cyp1b1</text></g>
<g id="c-acaa1b"><rect class="nd" x="606" y="749" width="24" height="10" fill="#d5df9a"/><text class="s i" x="635" y="757.8">Acaa1b</text></g>
<g id="c-fabp5"><rect class="nd" x="606" y="763" width="24" height="5" fill="#888888"/><text class="s i" x="635" y="769.3">Fabp5</text></g>
</svg>
